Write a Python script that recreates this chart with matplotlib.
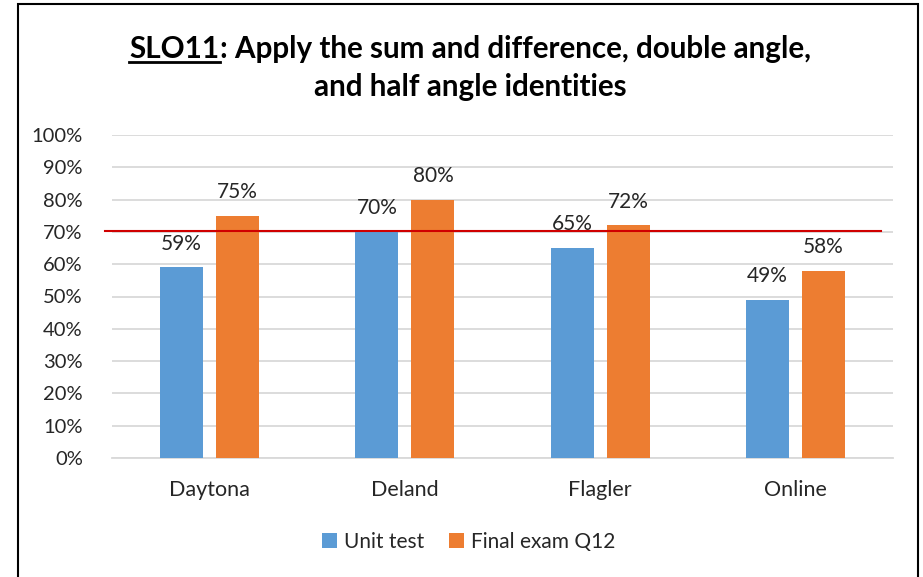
import matplotlib
matplotlib.use("Agg")
import matplotlib.pyplot as plt
from matplotlib.patches import Rectangle
import numpy as np

categories = ["Daytona", "Deland", "Flagler", "Online"]
unit_test = [59, 70, 65, 49]
final_exam = [75, 80, 72, 58]
series_names = ["Unit test", "Final exam Q12"]
target = 70.3
yticks = [0, 10, 20, 30, 40, 50, 60, 70, 80, 90, 100]

plt.rcParams['font.family'] = ['Lato', 'DejaVu Sans']

W, H = 923, 577
fig = plt.figure(figsize=(W / 100, H / 100), dpi=100)

ax = fig.add_axes([112 / W, 1 - 458 / H, (893 - 112) / W, (458 - 135) / H])
x = np.arange(len(categories))
bw = 0.22
gap = 0.067
off = (bw + gap) / 2
blue = "#5B9BD5"
orange = "#ED7D31"
fs_lab = 15
b1 = ax.bar(x - off, unit_test, bw, color=blue, label=series_names[0], zorder=3)
b2 = ax.bar(x + off, final_exam, bw, color=orange, label=series_names[1], zorder=3)
for bars, vals in ((b1, unit_test), (b2, final_exam)):
    for r, v in zip(bars, vals):
        ax.annotate(f"{v}%", (r.get_x() + r.get_width() / 2, v), xytext=(0, 10),
                    textcoords="offset points", ha="center", va="bottom",
                    fontsize=fs_lab, color="#262626", zorder=5)

ax.set_xlim(-0.5, len(categories) - 0.5)
ax.set_ylim(0, 100)
ax.set_yticks(yticks)
ax.set_yticklabels([f"{t}%" for t in yticks], fontsize=14.5, color="#262626")
ax.set_xticks(x)
ax.set_xticklabels(categories, fontsize=15.5, color="#262626")
ax.tick_params(axis="both", length=0)
ax.tick_params(axis="y", pad=21)
ax.tick_params(axis="x", pad=16)
ax.grid(axis="y", color="#D9D9D9", linewidth=1.3, zorder=0)
for s in ["top", "right", "left"]:
    ax.spines[s].set_visible(False)
ax.spines["bottom"].set_color("#D9D9D9")
ax.spines["bottom"].set_linewidth(1.3)

# target line (slightly wider than plot on left)
ax.plot([-0.535, 3.44], [target, target], color="#D00000", linewidth=1.5, zorder=6,
        clip_on=False)

leg = fig.legend(handles=[b1, b2], loc="center", bbox_to_anchor=(0.508, 1 - 542 / H),
                 ncol=2, frameon=False, fontsize=15, handlelength=0.7,
                 handleheight=0.7, columnspacing=1.2, handletextpad=0.35)
for t in leg.get_texts():
    t.set_color("#262626")

# Title with underlined "SLO11"
fig.canvas.draw()
r = fig.canvas.get_renderer()
fs = 21.3
t1 = fig.text(0, 0, "SLO11", fontsize=fs, fontweight="bold", color="black")
t2 = fig.text(0, 0, ": Apply the sum and difference, double angle,", fontsize=fs,
              fontweight="bold", color="black")
w1 = t1.get_window_extent(r).width
w2 = t2.get_window_extent(r).width
total = w1 + w2
x0 = (470 - total / 2)
ybase = H - 58
t1.set_position((x0 / W, ybase / H))
t2.set_position(((x0 + w1) / W, ybase / H))
fig.lines.append(plt.Line2D([x0 / W, (x0 + w1) / W], [(ybase - 4) / H, (ybase - 4) / H],
                            transform=fig.transFigure, color="black", linewidth=2))
fig.text(470 / W, (H - 96) / H, "and half angle identities", fontsize=fs,
         fontweight="bold", color="black", ha="center")

# border
fig.patches.append(Rectangle((18 / W, -0.01), (918 - 18) / W, (H - 4) / H + 0.01,
                             transform=fig.transFigure, fill=False,
                             edgecolor="black", linewidth=1.5))

fig.savefig("out.png", dpi=100)
